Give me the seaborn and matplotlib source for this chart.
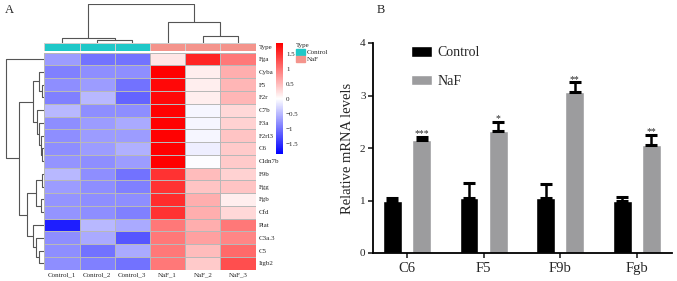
import numpy as np
import pandas as pd
import matplotlib
matplotlib.use("Agg")
import matplotlib.pyplot as plt
import seaborn as sns
from matplotlib.colors import LinearSegmentedColormap, ListedColormap
from matplotlib.patches import Patch

# ---------------- data: panel A (heatmap) ----------------
samples = ["Control_1", "Control_2", "Control_3", "NaF_1", "NaF_2", "NaF_3"]
sample_type = ["Control", "Control", "Control", "NaF", "NaF", "NaF"]
genes = ["Fga", "Cyba", "F5", "F2r", "C7b", "F3a", "F2rl3", "C6", "Cldn7b",
         "F9b", "Fgg", "Fgb", "Cfd", "Plat", "C3a.3", "C5", "Itgb2"]
z_fga    = [-0.7, -1.0, -1.0, 0.2, 1.6, 1.0]
z_cyba   = [-0.9, -0.8, -0.8, 1.87, 0.15, 0.6]
z_f5     = [-0.8, -0.7, -1.0, 1.8, 0.15, 0.55]
z_f2r    = [-0.9, -0.5, -1.1, 1.8, 0.15, 0.55]
z_c7b    = [-0.5, -0.8, -0.8, 1.85, -0.05, 0.3]
z_f3a    = [-0.8, -0.7, -0.6, 1.85, -0.05, 0.35]
z_f2rl3  = [-0.8, -0.7, -0.7, 1.85, -0.05, 0.45]
z_c6     = [-0.8, -0.7, -0.55, 1.9, -0.1, 0.4]
z_cldn7b = [-0.75, -0.8, -0.7, 1.9, 0.0, 0.4]
z_f9b    = [-0.5, -0.8, -1.0, 1.5, 0.5, 0.35]
z_fgg    = [-0.7, -0.8, -0.9, 1.5, 0.45, 0.45]
z_fgb    = [-0.75, -0.8, -0.8, 1.55, 0.6, 0.15]
z_cfd    = [-0.75, -0.8, -0.9, 1.5, 0.6, 0.3]
z_plat   = [-1.6, -0.5, -0.6, 1.0, 0.6, 1.0]
z_c3a3   = [-0.8, -0.6, -1.2, 1.0, 0.7, 0.9]
z_c5     = [-0.8, -1.0, -0.6, 1.0, 0.5, 1.1]
z_itgb2  = [-0.8, -0.9, -1.0, 1.0, 0.4, 1.3]
z_rows = [z_fga, z_cyba, z_f5, z_f2r, z_c7b, z_f3a, z_f2rl3, z_c6, z_cldn7b,
          z_f9b, z_fgg, z_fgb, z_cfd, z_plat, z_c3a3, z_c5, z_itgb2]

# hierarchical clustering trees: (left, right, height); ints refer to earlier merges
row_merges = [("F5", "F2r", 2.8), ("Cyba", 0, 5.2), ("C6", "Cldn7b", 2.0),
              ("F2rl3", 2, 3.0), ("F3a", 3, 5.0), ("C7b", 4, 7.5), (1, 5, 11.2),
              ("F9b", "Fgg", 2.5), ("Fgb", "Cfd", 3.5), (7, 8, 8.5),
              ("C5", "Itgb2", 5.0), ("C3a.3", 10, 8.5), ("Plat", 11, 11.8),
              (9, 12, 17.5), (6, 13, 25.2), ("Fga", 14, 38.6)]
col_merges = [("Control_2", "Control_3", 3.3), ("Control_1", 0, 5.0),
              ("NaF_2", "NaF_3", 7.6), ("NaF_1", 2, 21.6), (1, 3, 39.0)]

# ---------------- data: panel B (bars) ----------------
bar_genes = ["C6", "F5", "F9b", "Fgb"]
groups = ["Control", "NaF"]
control_mean = [1.0, 1.05, 1.05, 1.0]
control_sd = [0.05, 0.29, 0.27, 0.07]
naf_mean = [2.16, 2.33, 3.07, 2.05]
naf_sd = [0.05, 0.17, 0.18, 0.20]
signif = ["***", "*", "**", "**"]

# ---------------- style ----------------
sns.set_theme(style="white")
plt.rcParams["font.family"] = ["Liberation Serif", "DejaVu Serif"]
plt.rcParams["axes.unicode_minus"] = True

W, H = 677, 281
fig = plt.figure(figsize=(W / 100, H / 100), dpi=100)


def px_axes(x0, y0, x1, y1):
    return fig.add_axes([x0 / W, 1 - y1 / H, (x1 - x0) / W, (y1 - y0) / H])


def draw_dendro(ax, leaves, merges, orient, color="#555555", lw=0.8):
    pos = {leaf: i + 0.5 for i, leaf in enumerate(leaves)}
    hgt = {leaf: 0.0 for leaf in leaves}
    for k, (a, b, h) in enumerate(merges):
        for c in (a, b):
            if orient == "top":
                ax.plot([pos[c], pos[c]], [hgt[c], h], color=color, lw=lw, solid_capstyle="butt")
            else:
                ax.plot([hgt[c], h], [pos[c], pos[c]], color=color, lw=lw, solid_capstyle="butt")
        if orient == "top":
            ax.plot([pos[a], pos[b]], [h, h], color=color, lw=lw)
        else:
            ax.plot([h, h], [pos[a], pos[b]], color=color, lw=lw)
        pos[k] = (pos[a] + pos[b]) / 2
        hgt[k] = h
    ax.axis("off")


# ---------------- panel A ----------------
hm_x0, hm_x1, hm_y0, hm_y1 = 44.3, 255.7, 52.7, 269.7
ax_hm = px_axes(hm_x0, hm_y0, hm_x1, hm_y1)
ax_an = px_axes(hm_x0, 43.3, hm_x1, 50.7)
ax_cd = px_axes(hm_x0, 3.5, hm_x1, 43.3)
ax_rd = px_axes(3.0, hm_y0, hm_x0, hm_y1)
cax = px_axes(276, 43.3, 283.3, 154)

df_hm = pd.DataFrame(z_rows, index=genes, columns=samples)
cmap = LinearSegmentedColormap.from_list("bwr_ph", ["#0000FF", "#FFFFFF", "#FF0000"])
sns.heatmap(df_hm, ax=ax_hm, cmap=cmap, vmin=-1.83, vmax=1.87, cbar=False,
            linewidths=0.5, linecolor="#b8b8b8")
ax_hm.yaxis.tick_right()
ax_hm.set_yticks(np.arange(len(genes)) + 0.5)
ax_hm.set_yticklabels(genes, rotation=0, fontsize=5)
ax_hm.set_xticklabels(samples, rotation=0, fontsize=5)
ax_hm.tick_params(length=0, pad=2)
ax_hm.set_xlabel("")
ax_hm.set_ylabel("")

cb = fig.colorbar(ax_hm.collections[0], cax=cax)
cb.outline.set_visible(False)
cb_ticks = [1.5, 1, 0.5, 0, -0.5, -1, -1.5]
cb.set_ticks(cb_ticks)
cb.set_ticklabels(["1.5", "1", "0.5", "0", "\u22120.5", "\u22121", "\u22121.5"])
cax.tick_params(length=0, labelsize=5, pad=2)

type_colors = {"Control": "#1fc8c8", "NaF": "#f4948c"}
an_codes = np.array([[0 if t == "Control" else 1 for t in sample_type]])
sns.heatmap(an_codes, ax=ax_an, cmap=ListedColormap([type_colors["Control"], type_colors["NaF"]]),
            vmin=0, vmax=1, cbar=False, linewidths=0.5, linecolor="#d0d0d0",
            xticklabels=False, yticklabels=["Type"])
ax_an.yaxis.tick_right()
ax_an.set_yticklabels(["Type"], rotation=0, fontsize=5)
ax_an.tick_params(length=0, pad=2)

draw_dendro(ax_cd, samples, col_merges, "top")
ax_cd.set_xlim(0, len(samples))
ax_cd.set_ylim(0, 39.8)

draw_dendro(ax_rd, genes, row_merges, "left")
ax_rd.set_ylim(ax_hm.get_ylim())
ax_rd.set_xlim(41.3, 0)

fig.legend(handles=[Patch(color=type_colors["Control"], label="Control"),
                    Patch(color=type_colors["NaF"], label="NaF")],
           title="Type", loc="upper left", bbox_to_anchor=(293 / W, 1 - 40 / H),
           frameon=False, fontsize=5, title_fontsize=5, handlelength=1.3,
           handleheight=1.0, handletextpad=0.3, labelspacing=0.12,
           alignment="left", borderaxespad=0)

fig.text(5 / W, 1 - 4 / H, "A", fontsize=9, va="top", ha="left")
fig.text(377 / W, 1 - 4 / H, "B", fontsize=9, va="top", ha="left")

# ---------------- panel B ----------------
axb = px_axes(372.5, 43, 672, 253)
df_bar = pd.DataFrame({
    "gene": bar_genes * 2,
    "group": [groups[0]] * 4 + [groups[1]] * 4,
    "value": control_mean + naf_mean,
})
sns.barplot(data=df_bar, x="gene", y="value", hue="group", order=bar_genes,
            hue_order=groups, palette={"Control": "#000000", "NaF": "#9c9c9e"},
            width=0.76, gap=0.35, errorbar=None, saturation=1, ax=axb)

sds = [control_sd, naf_sd]
for ci, cont in enumerate(axb.containers[:2]):
    xs = [p.get_x() + p.get_width() / 2 for p in cont.patches]
    ys = [p.get_height() for p in cont.patches]
    axb.errorbar(xs, ys, yerr=[np.zeros(len(ys)), sds[ci]], fmt="none",
                 ecolor="black", elinewidth=1.8, capsize=4, capthick=2.2, zorder=1)
    if ci == 1:
        for x, y, e, s in zip(xs, ys, sds[ci], signif):
            axb.text(x, y + e + 0.01, s, ha="center", va="baseline", fontsize=7)

axb.set_ylim(0, 4)
axb.set_xlim(-0.45, 3.46)
axb.set_yticks([0, 1, 2, 3, 4])
axb.set_xlabel("")
axb.set_ylabel("Relative mRNA levels", fontsize=10.5, labelpad=4)
axb.tick_params(axis="y", labelsize=8, length=3.5, width=1.2, direction="out", left=True, pad=1.5)
axb.tick_params(axis="x", labelsize=10.5, length=3.5, width=1.2, direction="out", bottom=True, pad=3)
for side in ("top", "right"):
    axb.spines[side].set_visible(False)
for side in ("left", "bottom"):
    axb.spines[side].set_linewidth(1.3)
    axb.spines[side].set_color("black")

handles, labels = axb.get_legend_handles_labels()
axb.legend(handles[:2], labels[:2], loc="upper left", bbox_to_anchor=(0.13, 0.985),
           frameon=False, fontsize=10, handlelength=1.5, handleheight=0.8,
           labelspacing=1.1, handletextpad=0.4, borderaxespad=0, borderpad=0)

fig.savefig("out.png", dpi=100)
